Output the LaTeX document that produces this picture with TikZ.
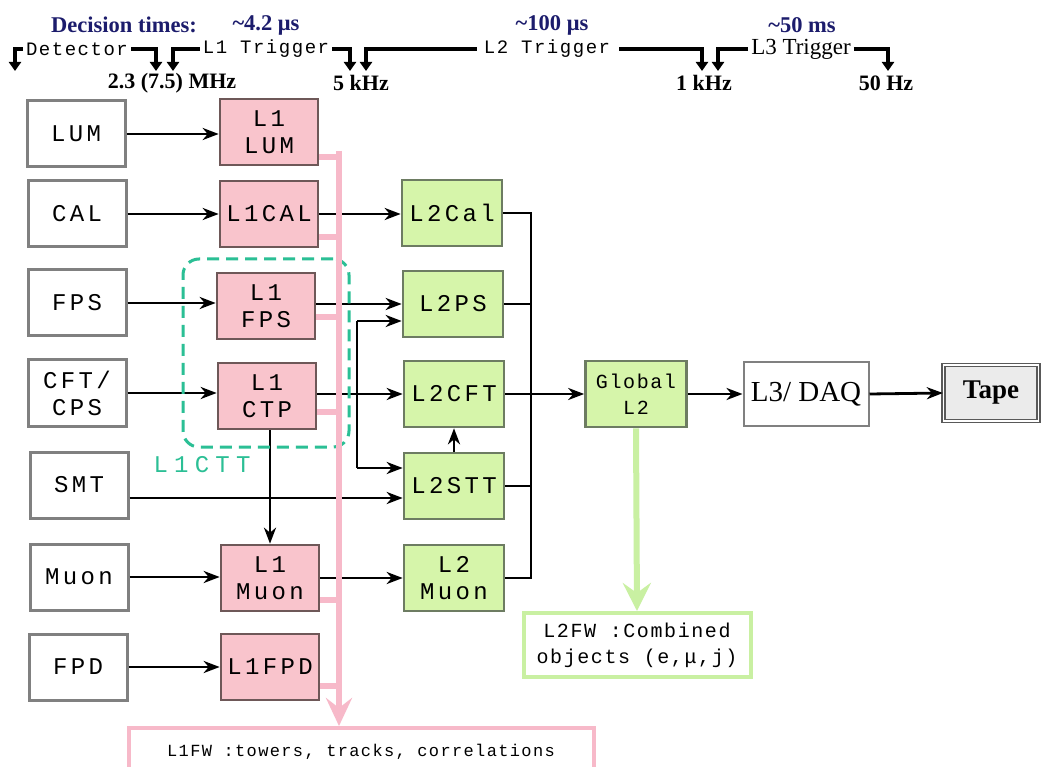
\documentclass[tikz,border=0pt]{standalone}
\usepackage{fontspec}
\setmainfont{Liberation Serif}
\newfontfamily\boxmono[LetterSpace=14]{Liberation Mono}
\newfontfamily\smallmono[LetterSpace=8]{Liberation Mono}
\newfontfamily\cttmono[LetterSpace=26]{Liberation Mono}
\usetikzlibrary{arrows.meta}
\definecolor{pinkfill}{HTML}{F9C4CC}
\definecolor{pinkedge}{HTML}{6E5858}
\definecolor{pinkbus}{HTML}{F7B9C9}
\definecolor{greenfill}{HTML}{D6F5AA}
\definecolor{greenedge}{HTML}{6D7C62}
\definecolor{detedge}{HTML}{808080}
\definecolor{navyhdr}{HTML}{1C1C6C}
\definecolor{cttcol}{HTML}{2BBF95}
\definecolor{fwgreen}{HTML}{C9F0A2}
\newcommand\boxfont{\boxmono\fontsize{24}{27}\selectfont}
\begin{document}
\begin{tikzpicture}[x=1pt,y=-1pt,
  det/.style={draw=detedge, line width=3pt, fill=white, minimum width=98pt, minimum height=66pt, inner sep=0pt, font=\boxfont, align=center},
  lone/.style={draw=pinkedge, line width=2.6pt, fill=pinkfill, minimum width=98pt, minimum height=66pt, inner sep=0pt, font=\boxfont, align=center},
  ltwo/.style={draw=greenedge, line width=2.6pt, fill=greenfill, minimum width=100pt, minimum height=66pt, inner sep=0pt, font=\boxfont, align=center},
  sig/.style={line width=2.8pt, -{Stealth[length=16pt,width=12pt,inset=5pt]}},
  wire/.style={line width=2.8pt},
  hdr/.style={font=\bfseries\fontsize{22.5}{24}\selectfont, text=navyhdr, inner sep=0pt},
  rate/.style={font=\bfseries\fontsize{22}{24}\selectfont, inner sep=0pt},
  tlab/.style={font=\smallmono\fontsize{19}{21}\selectfont, inner sep=3pt},
  tl/.style={line width=3.8pt, -{Triangle[length=9pt,width=12pt]}},
  pinkline/.style={draw=pinkbus, line width=5.5pt},
]
\useasboundingbox (0,0) rectangle (1042,767);
\fill[white] (0,0) rectangle (1042,767);

% ---------- header ----------
\node[hdr] (dt) at (124,25) {Decision times:};
\node[hdr] (tone) at (266,25) {\textasciitilde4.2 μs};
\node[hdr] (ttwo) at (552,25) {\textasciitilde100 μs};
\node[hdr] (tthree) at (802,25) {\textasciitilde50 ms};

\node[tlab] (detl) at (77,49) {Detector};
\node[tlab] (lonel) at (266,49) {L1 Trigger};
\node[tlab] (ltwol) at (547,49) {L2 Trigger};
\node[font=\fontsize{23}{25}\selectfont, inner sep=3pt] (lthreel) at (801,49) {L3 Trigger};

\coordinate (a0) at (15,71);
\coordinate (a1) at (156,71);
\coordinate (a2) at (173,71);
\coordinate (a3) at (350,71);
\coordinate (a4) at (366,71);
\coordinate (a5) at (702,71);
\coordinate (a6) at (718,71);
\coordinate (a7) at (888,71);
\draw[tl] (detl.west) -| (a0);
\draw[tl] (detl.east) -| (a1);
\draw[tl] (lonel.west) -| (a2);
\draw[tl] (lonel.east) -| (a3);
\draw[tl] ([xshift=-4pt]ltwol.west) -| (a4);
\draw[tl] ([xshift=6pt]ltwol.east) -| (a5);
\draw[tl] (lthreel.west) -| (a6);
\draw[tl] (lthreel.east) -| (a7);

\node[rate] (rone) at (172,83) {2.3 (7.5) MHz};
\node[rate] (rtwo) at (361,83) {5 kHz};
\node[rate] (rthree) at (704,83) {1 kHz};
\node[rate] (rfour) at (886,83) {50 Hz};

% ---------- detector boxes ----------
\node[det] (lum) at (76,134) {LUM};
\node[det] (cal) at (77,214) {CAL};
\node[det] (fps) at (77,303) {FPS};
\node[det] (cft) at (77,393) {CFT/\\CPS};
\node[det] (smt) at (79,485) {SMT};
\node[det] (muon) at (79,577) {Muon};
\node[det] (fpd) at (78,667) {FPD};

% ---------- L1 boxes ----------
\node[lone] (lonelum) at (269,132) {L1\\LUM};
\node[lone] (lonecal) at (269,214) {L1CAL};
\node[lone] (lonefps) at (266,306) {L1\\FPS};
\node[lone] (lonectp) at (267,396) {L1\\CTP};
\node[lone] (lonemuon) at (270,578) {L1\\Muon};
\node[lone] (lonefpd) at (270,667) {L1FPD};

% ---------- L2 boxes ----------
\node[ltwo] (ltwocal) at (452,213) {L2Cal};
\node[ltwo] (ltwops) at (453,304) {L2PS};
\node[ltwo] (ltwocft) at (454,394) {L2CFT};
\node[ltwo] (ltwostt) at (454,486) {L2STT};
\node[ltwo] (ltwomuon) at (454,578) {L2\\Muon};

\node[ltwo, minimum width=101pt, font=\smallmono\fontsize{20}{26}\selectfont] (global) at (636,394) {Global\\L2};
\node[draw=detedge, line width=2pt, fill=white, minimum width=125pt, minimum height=64pt, inner sep=0pt, font=\fontsize{29}{31}\selectfont] (lthree) at (806,394) {L3/ DAQ};
\node[draw=black!65, double=white, double distance=1.6pt, line width=1.3pt, fill=gray!16, minimum width=95pt, minimum height=56pt, inner sep=0pt, font=\bfseries\fontsize{27}{29}\selectfont] (tape) at (991,393) {Tape};

\node[draw=fwgreen, line width=4pt, fill=white, minimum width=227pt, minimum height=64pt, inner sep=0pt, align=center, font=\smallmono\fontsize{20}{26}\selectfont] (ltwofw) at (637,645) {L2FW :Combined\\objects (e,μ,j)};
\node[draw=pinkbus, line width=4pt, fill=white, minimum width=465pt, minimum height=48pt, inner sep=0pt, font=\smallmono\fontsize{17}{19}\selectfont] (lonefw) at (361,752) {L1FW :towers, tracks, correlations};

% ---------- black connectors ----------
\draw[sig] (lum.east) -- (lum.east -| lonelum.west);
\draw[sig] (cal.east) -- (cal.east -| lonecal.west);
\draw[sig] (fps.east) -- (fps.east -| lonefps.west);
\draw[sig] (cft.east) -- (cft.east -| lonectp.west);
\draw[sig] (muon.east) -- (muon.east -| lonemuon.west);
\draw[sig] (fpd.east) -- (fpd.east -| lonefpd.west);

\draw[sig] (lonecal.east) -- (lonecal.east -| ltwocal.west);
\draw[sig] (lonefps.east |- ltwops.west) -- (ltwops.west);
\draw[sig] (lonectp.east |- ltwocft.west) -- (ltwocft.west);
\draw[sig] (lonemuon.east) -- (lonemuon.east -| ltwomuon.west);
\draw[sig] ([yshift=-13pt]smt.east) -- ([yshift=-13pt]smt.east -| ltwostt.west);

\coordinate (vt) at (357,321);
\coordinate (vb) at (357,468);
\draw[wire] (vt) -- (vb);
\draw[sig] (vt) -- (vt -| ltwops.west);
\draw[sig] (vb) -- (vb -| ltwostt.west);

\draw[sig] (lonemuon.north |- lonectp.south) -- (lonemuon.north);
\draw[sig] (ltwostt.north) -- (ltwostt.north |- ltwocft.south);

\coordinate (bus) at (531,0);
\draw[wire] (ltwocal.east) -- (ltwocal.east -| bus) -- (bus |- ltwomuon.east) -- (ltwomuon.east);
\draw[wire] (ltwops.east) -- (ltwops.east -| bus);
\draw[wire] (ltwostt.east) -- (ltwostt.east -| bus);
\draw[sig] (ltwocft.east) -- (global.west);
\draw[sig] (global.east) -- (lthree.west);
\draw[sig] (lthree.east) -- (tape.west);

% ---------- L1CTT dashed group ----------
\node[draw=cttcol, line width=3pt, dash pattern=on 12pt off 7pt, rounded corners=16pt, minimum width=166pt, minimum height=188pt] (ctt) at (266,353) {};
\node[font=\cttmono\fontsize{24}{26}\selectfont, text=cttcol, inner sep=0pt] (cttl) at (202,465) {L1CTT};

% ---------- pink L1 framework bus ----------
\coordinate (pb) at (339,151);
\draw[pinkline] ([yshift=-25pt]lonelum.east) -| (pb);
\draw[pinkline, -{Stealth[length=28pt,width=26pt,inset=10pt]}] (pb) -- (pb |- lonefw.north);
\draw[pinkline] ([yshift=-23pt]lonecal.east) -- ([yshift=-23pt]lonecal.east -| pb);
\draw[pinkline] ([yshift=-11pt]lonefps.east) -- ([yshift=-11pt]lonefps.east -| pb);
\draw[pinkline] ([yshift=-16pt]lonectp.east) -- ([yshift=-16pt]lonectp.east -| pb);
\draw[pinkline] ([yshift=-22pt]lonemuon.east) -- ([yshift=-22pt]lonemuon.east -| pb);
\draw[pinkline] ([yshift=-19pt]lonefpd.east) -- ([yshift=-19pt]lonefpd.east -| pb);

% ---------- green L2 framework arrow ----------
\draw[draw=fwgreen, line width=6pt, -{Stealth[length=28pt,width=28pt,inset=10pt]}] (global.south) -- (ltwofw.north);
\end{tikzpicture}
\end{document}
